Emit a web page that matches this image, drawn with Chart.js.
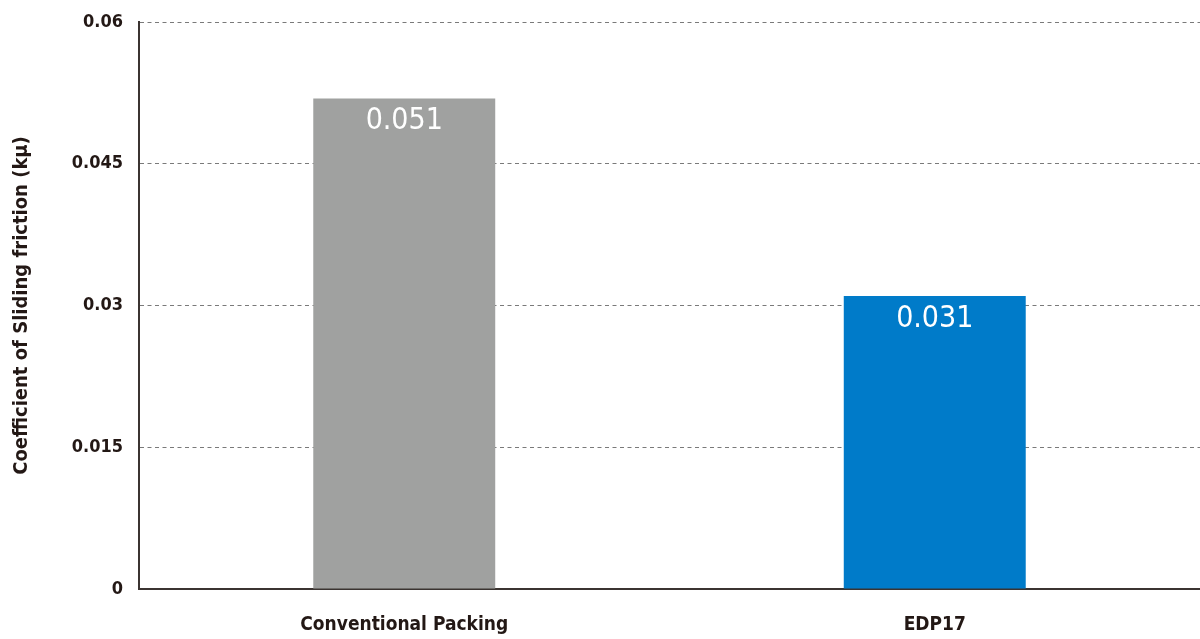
<!DOCTYPE html>
<html>
<head>
<meta charset="utf-8">
<script src="https://cdn.jsdelivr.net/npm/chart.js@4"></script>
<style>
  html, body { margin: 0; padding: 0; background: #fff; }
  #wrap { width: 1200px; height: 639px; }
</style>
</head>
<body>
<div id="wrap"><canvas id="frictionChart"></canvas></div>
<script>
// Categories and values
const categories = ['Conventional Packing', 'EDP17'];
const frictionValues = [0.0519, 0.031];
const valueLabels = ['0.051', '0.031'];
const barColors = ['#a0a1a0', '#007bc9'];
const yTicks = [0, 0.015, 0.03, 0.045, 0.06];

const FONT = '"DejaVu Sans Condensed", "Liberation Sans Narrow", sans-serif';

// draw value text inside the top of each bar
const barValuePlugin = {
    id: 'barValues',
    afterDatasetsDraw(chart) {
        const ctx = chart.ctx;
        const meta = chart.getDatasetMeta(0);
        ctx.save();
        ctx.fillStyle = '#ffffff';
        ctx.font = '300 30px ' + FONT;
        ctx.textAlign = 'center';
        ctx.textBaseline = 'middle';
        meta.data.forEach((bar, i) => {
            ctx.fillText(valueLabels[i], bar.x, bar.y + 23);
        });
        ctx.restore();
    },
};

function createFrictionChart() {
    const ctx = document.getElementById('frictionChart').getContext('2d');
    new Chart(ctx, {
        type: 'bar',
        data: {
            labels: categories,
            datasets: [
                {
                    data: frictionValues,
                    backgroundColor: barColors,
                    borderWidth: 0,
                    barPercentage: 0.343,
                    categoryPercentage: 1,
                },
            ],
        },
        options: {
            responsive: true,
            maintainAspectRatio: false,
            animation: false,
            layout: { padding: { top: 22, right: 0, left: 0, bottom: 0 } },
            plugins: {
                legend: { display: false },
                tooltip: { enabled: false },
            },
            scales: {
                x: {
                    grid: { display: false, drawTicks: false },
                    border: { display: true, color: '#3b3431', width: 2 },
                    ticks: {
                        color: '#231815',
                        padding: 25,
                        font: { family: FONT, size: 19, weight: 'bold' },
                    },
                    afterFit(scale) { scale.height = 50; },
                },
                y: {
                    min: 0,
                    max: 0.06,
                    afterBuildTicks(scale) {
                        scale.ticks = yTicks.map(v => ({ value: v }));
                    },
                    grid: {
                        color: (c) => (c.tick && c.tick.value === 0 ? 'rgba(0,0,0,0)' : '#7a7a7a'),
                        lineWidth: 1,
                        drawTicks: false,
                    },
                    border: { display: true, color: '#3b3431', width: 2, dash: [4, 3.5] },
                    ticks: {
                        color: '#231815',
                        padding: 16,
                        font: { family: FONT, size: 18, weight: 'bold' },
                        callback: (v) => String(Number(v.toFixed(3))),
                    },
                    title: {
                        display: true,
                        text: 'Coefficient of Sliding friction (kμ)',
                        color: '#231815',
                        padding: { top: 10, bottom: 0 },
                        font: { family: FONT, size: 20, weight: 'bold' },
                    },
                    afterFit(scale) {
                        scale.width = 139;
                        scale.paddingTop = 0;
                        scale.paddingBottom = 0;
                    },
                },
            },
        },
        plugins: [barValuePlugin],
    });
}

document.addEventListener('DOMContentLoaded', function () {
    createFrictionChart();
});
</script>
</body>
</html>
